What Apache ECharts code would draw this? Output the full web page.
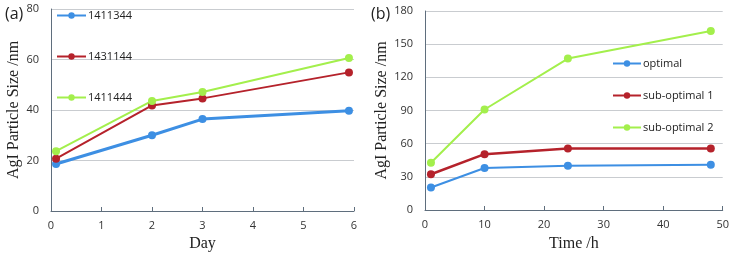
<!DOCTYPE html>
<html><head><meta charset="utf-8">
<script src="https://cdn.jsdelivr.net/npm/echarts@6/dist/echarts.min.js"></script>
<style>html,body{margin:0;padding:0;background:#fff}#c{width:732px;height:257px}</style>
</head><body><div id="c"></div>
<script>
// Panel (a)
const daysA = [0.1, 2, 3, 5.9];
const s1411344 = [18.6, 30.0, 36.4, 39.7];
const s1431144 = [20.7, 41.8, 44.6, 54.9];
const s1411444 = [23.7, 43.6, 47.1, 60.6];
const namesA = ['1411344', '1431144', '1411444'];
// Panel (b)
const hoursB = [1, 10, 24, 48];
const optimal = [20.3, 38.0, 40.1, 41.0];
const subOptimal1 = [32.3, 50.5, 55.6, 55.6];
const subOptimal2 = [42.8, 90.9, 137.0, 162.0];
const namesB = ['optimal', 'sub-optimal 1', 'sub-optimal 2'];

const BLUE = '#3d8fe3', RED = '#b5222b', GREEN = '#a3ef4c';
const axisCol = '#5f6e7d', gridCol = '#c9ccd0', txt = '#333';
const tickFont = {fontFamily: 'Open Sans', fontSize: 11, color: txt};
const nameFont = {fontFamily: 'Liberation Serif', fontSize: 16, color: '#222'};

function pairs(xs, ys){ return xs.map((x,i)=>[x, ys[i]]); }
function ser(name, xs, ys, color, idx, w){
  return {name, type:'line', xAxisIndex: idx, yAxisIndex: idx, data: pairs(xs, ys),
    symbol:'circle', symbolSize: 8, lineStyle:{color, width:w}, itemStyle:{color},
    emphasis:{disabled:true}, animation:false};
}
function xAx(idx, min, max, interval, name, gap){
  return {type:'value', gridIndex: idx, min, max, interval, name, nameLocation:'middle', nameGap: gap,
    nameTextStyle: nameFont, axisLabel: Object.assign({margin: 9}, tickFont),
    axisLine:{lineStyle:{color:axisCol, width:1}}, axisTick:{show:true, inside:true, length:4, lineStyle:{color:axisCol}},
    splitLine:{show:false}};
}
function yAx(idx, min, max, interval, name, gap){
  return {type:'value', gridIndex: idx, min, max, interval, name, nameLocation:'middle', nameGap: gap,
    nameTextStyle: nameFont, axisLabel: Object.assign({margin: 12}, tickFont),
    axisLine:{show:true, lineStyle:{color:axisCol, width:1}}, axisTick:{show:false},
    splitLine:{show:true, lineStyle:{color:gridCol, width:1}}};
}
const legText = {fontFamily:'Open Sans', fontSize:11, color:'#222', padding:[0,0,0,-3]};
const chart = echarts.init(document.getElementById('c'), null, {renderer:'canvas'});
chart.setOption({
  animation:false,
  title:[
    {text:'(a)', left:0, top:1, textStyle:{fontFamily:'Open Sans', fontSize:16, fontWeight:'normal', color:'#222'}},
    {text:'(b)', left:366, top:1, textStyle:{fontFamily:'Open Sans', fontSize:16, fontWeight:'normal', color:'#222'}}
  ],
  grid:[
    {left:51, right:378, top:9, bottom:46},
    {left:425, right:8, top:11, bottom:44}
  ],
  xAxis:[ xAx(0, 0, 6, 1, 'Day', 24), xAx(1, 0, 50, 10, 'Time /h', 26) ],
  yAxis:[ yAx(0, 0, 80, 20, 'AgI Particle Size /nm', 29), yAx(1, 0, 180, 30, 'AgI Particle Size /nm', 35) ],
  legend:[
    {data: namesA, orient:'vertical', left:51, top:5, itemGap:30, itemWidth:29, itemHeight:8,
     textStyle: legText},
    {data: namesB, orient:'vertical', left:607, top:53, itemGap:21, itemWidth:28, itemHeight:8,
     textStyle: legText}
  ],
  series:[
    ser(namesA[0], daysA, s1411344, BLUE, 0, 3),
    ser(namesA[1], daysA, s1431144, RED, 0, 2),
    ser(namesA[2], daysA, s1411444, GREEN, 0, 2),
    ser(namesB[0], hoursB, optimal, BLUE, 1, 2),
    ser(namesB[1], hoursB, subOptimal1, RED, 1, 2.5),
    ser(namesB[2], hoursB, subOptimal2, GREEN, 1, 2)
  ]
});
</script></body></html>
